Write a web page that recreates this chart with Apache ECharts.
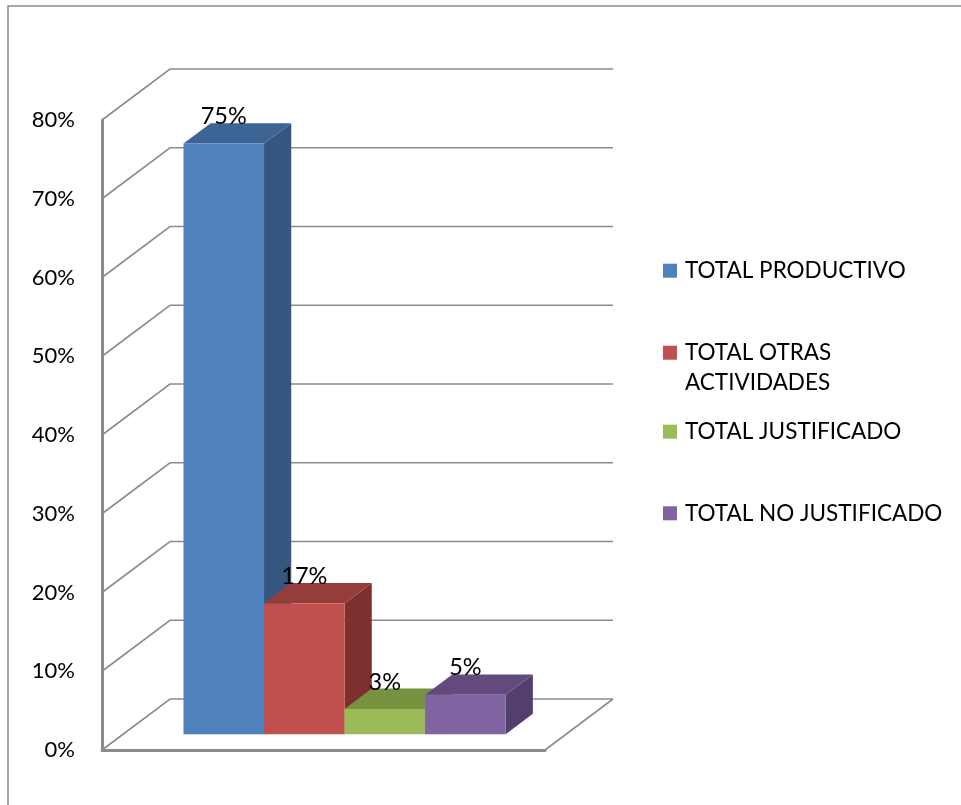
<!DOCTYPE html>
<html>
<head>
<meta charset="utf-8">
<script src="https://cdn.jsdelivr.net/npm/echarts@6/dist/echarts.min.js"></script>
<style>
html,body{margin:0;padding:0;background:#fff;}
#main{width:961px;height:805px;}
</style>
</head>
<body>
<div id="main"></div>
<script>
// ---- data ----
const categories = ['TOTAL PRODUCTIVO', 'TOTAL OTRAS ACTIVIDADES', 'TOTAL JUSTIFICADO', 'TOTAL NO JUSTIFICADO'];
const values = [0.75, 0.166, 0.032, 0.05];
const yTicks = [0, 0.1, 0.2, 0.3, 0.4, 0.5, 0.6, 0.7, 0.8];

// ---- styles ----
const frontColors = ['#4F81BD', '#C0504D', '#9BBB59', '#8064A2'];
const topColors   = ['#3C6595', '#953D3B', '#77933F', '#614B7E'];
const sideColors  = ['#34567F', '#7E302E', '#6A8438', '#533F6E'];
const WALL_DX = 68, WALL_DY = -51;     // depth of the 3D box in pixels
const BAR_FRONT = 0.31, BAR_DEPTH = 0.40; // bar placement inside the depth
const GAP_RATIO = 1.5;                 // Excel gap width 150%
const LINE = '#8C8C8C';
const FONT = 'Lato';
const LEG_FS = 22.5;

const chart = echarts.init(document.getElementById('main'));

function wallItem(params, api) {
  const cs = params.coordSys;
  const t = api.value(1);
  const y = api.coord([0, t])[1];
  const L = cs.x, R = cs.x + cs.width;
  const children = [{
    type: 'polyline',
    shape: { points: [[L, y], [L + WALL_DX, y + WALL_DY], [R + WALL_DX, y + WALL_DY]] },
    style: { stroke: LINE, lineWidth: 1.6, fill: null }
  }];
  if (t === 0) {
    children.push({
      type: 'line',
      shape: { x1: R, y1: y, x2: R + WALL_DX, y2: y + WALL_DY },
      style: { stroke: LINE, lineWidth: 1.6 }
    });
  }
  return { type: 'group', children: children };
}

function barItem(i, params, api) {
  const v = api.value(1);
  const top = api.coord([0, v]);
  const base = api.coord([0, 0]);
  const band = api.size([1, 0])[0];
  const n = categories.length;
  const bw = band / (n + GAP_RATIO);
  const ox = WALL_DX * BAR_FRONT, oy = WALL_DY * BAR_FRONT;
  const dx = WALL_DX * BAR_DEPTH, dy = WALL_DY * BAR_DEPTH;
  const x0 = top[0] - bw * n / 2 + i * bw + ox;
  const x1 = x0 + bw;
  const yt = top[1] + oy, yb = base[1] + oy;
  return {
    type: 'group',
    children: [
      { type: 'polygon', shape: { points: [[x1, yb], [x1, yt], [x1 + dx, yt + dy], [x1 + dx, yb + dy]] },
        style: { fill: sideColors[i] } },
      { type: 'polygon', shape: { points: [[x0, yt], [x1, yt], [x1 + dx, yt + dy], [x0 + dx, yt + dy]] },
        style: { fill: topColors[i] } },
      { type: 'rect', shape: { x: x0, y: yt, width: bw, height: yb - yt },
        style: { fill: frontColors[i] } },
      { type: 'text', z2: 100,
        style: { text: Math.round(v * 100) + '%', x: (x0 + x1) / 2, y: yt - 27,
          align: 'center', verticalAlign: 'middle', fontSize: 23.5, fontFamily: FONT, fill: '#000' } }
    ]
  };
}

const legendCenters = [270.7, 352.7, 431.7, 513.3];

const series = [{
  type: 'custom',
  name: 'walls',
  silent: true,
  z: 1,
  data: yTicks.map(t => [0, t]),
  renderItem: wallItem
}];
categories.forEach((name, i) => {
  series.push({
    type: 'custom',
    name: name,
    z: 3,
    itemStyle: { color: frontColors[i] },
    data: [[0, values[i]]],
    renderItem: (params, api) => barItem(i, params, api)
  });
});

const option = {
  backgroundColor: '#fff',
  animation: false,
  grid: { left: 102, top: 120, width: 443, height: 630 },
  xAxis: {
    type: 'category',
    data: ['TOTAL'],
    axisLine: { show: true, lineStyle: { color: LINE, width: 3 } },
    axisTick: { show: false },
    axisLabel: { show: false },
    splitLine: { show: false }
  },
  yAxis: {
    type: 'value',
    min: 0, max: 0.8, interval: 0.1,
    axisLine: { show: true, lineStyle: { color: LINE, width: 3 } },
    axisTick: { show: false },
    splitLine: { show: false },
    axisLabel: {
      margin: 27,
      fontSize: 22, fontFamily: FONT, color: '#000',
      formatter: v => Math.round(v * 100) + '%'
    }
  },
  legend: categories.map((name, i) => ({
    data: [name],
    orient: 'vertical',
    left: 663,
    top: legendCenters[i] - 13,
    padding: 0,
    itemWidth: 14,
    itemHeight: 14,
    icon: 'rect',
    selectedMode: false,
    formatter: n => n === 'TOTAL OTRAS ACTIVIDADES' ? 'TOTAL OTRAS' : n,
    textStyle: { fontSize: LEG_FS, fontFamily: FONT, color: '#000', lineHeight: 26, padding: [0, 0, 0, 3] }
  })),
  graphic: [
    { type: 'rect', silent: true, shape: { x: 8, y: 6, width: 1000, height: 900 },
      style: { fill: null, stroke: '#8A8A8A', lineWidth: 1.5 } },
    { type: 'text', left: 685, top: 383 - 13,
      style: { text: 'ACTIVIDADES', fontSize: LEG_FS, fontFamily: FONT, fill: '#000', lineHeight: 26 } }
  ],
  series: series
};
chart.setOption(option);
</script>
</body>
</html>
